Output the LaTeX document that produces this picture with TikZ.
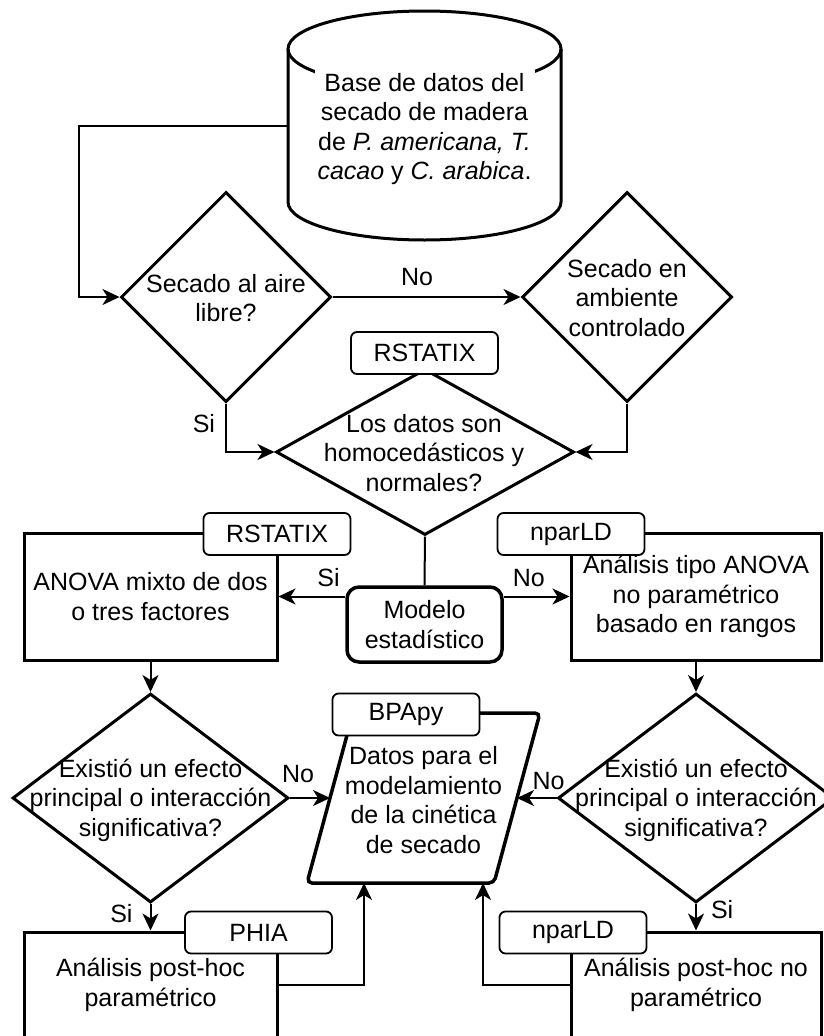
\documentclass[tikz,border=0pt]{standalone}
\usepackage{fontspec}
\setmainfont{Liberation Sans}
\usetikzlibrary{shapes.geometric,arrows.meta}
\begin{document}
\begin{tikzpicture}[x=1pt,y=-1pt,
  every node/.style={font=\fontsize{25pt}{29.5pt}\selectfont, align=center, inner sep=0pt},
  dia/.style 2 args={diamond, draw, line width=3pt, minimum width=#1, minimum height=#2, inner sep=0pt},
  box/.style 2 args={rectangle, draw, line width=3pt, minimum width=#1, minimum height=#2},
  tag/.style={draw, fill=white, rounded corners=6pt, line width=1.8pt, minimum width=147pt, minimum height=42pt},
  arr/.style={line width=2pt, -{Stealth[length=17pt, width=16pt, inset=5pt]}},
  con/.style={line width=2pt},
  shp/.style={line width=3pt}]
\clip (0,0) rectangle (824,1036);
\fill[white] (0,0) rectangle (824,1036);

% database cylinder
\draw[shp] (288,49) -- (288,202) arc[start angle=180, end angle=360, x radius=136.5pt, y radius=38pt] -- (561,49);
\draw[shp] (424.5,49) ellipse [x radius=136.5pt, y radius=38pt];
\node[minimum width=273pt, minimum height=230pt] (db) at (424.5,126) {};
\node[fill=white, inner sep=3pt] at (424.5,129)
  {Base de datos del\\secado de madera\\de \textit{P. americana, T.}\\\textit{cacao} y \textit{C. arabica}.};

% decisions
\node[dia={210pt}{210pt}] (d1) at (226,297) {};
\node at (226,298) {Secado al aire\\libre?};
\node[dia={210pt}{210pt}] (d2) at (627,297) {};
\node at (627,298) {Secado en\\ambiente\\controlado};
\node[dia={298pt}{166pt}] (d3) at (425,452) {};
\node at (424,453) {Los datos son\\homocedásticos y\\normales?};
\node[dia={276pt}{209pt}] (d4) at (150.5,798) {};
\node at (150.5,800) {Existió un efecto\\principal o interacción\\significativa?};
\node[dia={276pt}{209pt}] (d5) at (696,798) {};
\node at (696,800) {Existió un efecto\\principal o interacción\\significativa?};

% processes
\node[box={253pt}{127pt}] (r1) at (150.5,596.5) {ANOVA mixto de dos\\o tres factores};
\node[box={250pt}{127pt}] (r2) at (696,596.5) {Análisis tipo ANOVA\\no paramétrico\\basado en rangos};
\node[box={253pt}{106pt}] (r3) at (150.5,985) {Análisis post-hoc\\paramétrico};
\node[box={250pt}{106pt}] (r4) at (696,985) {Análisis post-hoc no\\paramétrico};

\node[draw, line width=3.5pt, rounded corners=12pt, minimum width=155pt, minimum height=75pt] (mod) at (424.5,624.5) {Modelo\\estadístico};

% data parallelogram
\draw[line width=3.5pt, rounded corners=5pt] (353,713) -- (540,713) -- (494,883) -- (307,883) -- cycle;
\node (par) at (423.5,800) {Datos para el\\modelamiento\\de la cinética\\de secado};
\coordinate (parL) at (330,798);
\coordinate (parR) at (517,798);
\coordinate (parB1) at (364,883);
\coordinate (parB2) at (483,883);

% connectors
\draw[arr] (db.west) -- ++(-209,0) |- (d1.west);
\draw[arr] (d1.east) -- node[pos=0.45, above=10pt] {No} (d2.west);
\draw[arr] (d1.south) |- node[pos=0.21, left=10pt] {Si} (d3.west);
\draw[arr] (d2.south) |- (d3.east);
\draw[con] (d3.south) -- (mod.north);
\draw[arr] (r1.east -| mod.west) -- node[pos=0.25, above=9pt] {Si} (r1.east);
\draw[arr] (r2.west -| mod.east) -- node[pos=0.38, above=9pt] {No} (r2.west);
\draw[arr] (r1.south) -- (d4.north);
\draw[arr] (r2.south) -- (d5.north);
\draw[arr] (d4.east) -- node[pos=0.2, above=14pt] {No} (parL);
\draw[arr] (d5.west) -- node[pos=0.2, above=7pt] {No} (parR);
\draw[arr] (d4.south) -- node[pos=0.35, left=17pt] {Si} (r3.north);
\draw[arr] (d5.south) -- node[pos=0.2, right=14pt] {Si} (r4.north);
\draw[arr] (r3.east) -| (parB1);
\draw[arr] (r4.west) -| (parB2);

% tool tags
\node[tag] (L1) at (424.5,353) {RSTATIX};
\node[tag] (L2) at (277,534) {RSTATIX};
\node[tag] (L3) at (571,534) {nparLD};
\node[tag] (L4) at (406,714.5) {BPApy};
\node[tag] (L5) at (258.5,932.5) {PHIA};
\node[tag] (L6) at (573,932.5) {nparLD};
\end{tikzpicture}
\end{document}
